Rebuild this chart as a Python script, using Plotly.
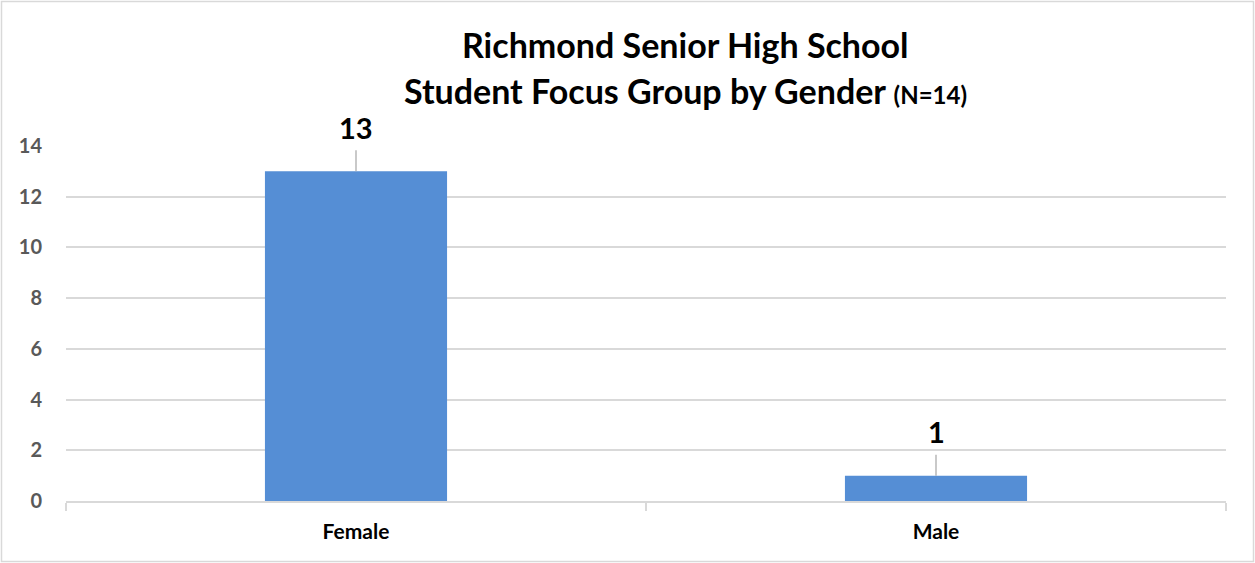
import plotly.graph_objects as go

categories = ["Female", "Male"]
counts = [13, 1]
y_ticks = [0, 2, 4, 6, 8, 10, 12, 14]

W, H = 1255, 563
L, R, T, B = 66, 29, 146, 62
FONT = "Lato, sans-serif"

fig = go.Figure()
fig.add_trace(go.Bar(
    x=categories, y=counts,
    marker=dict(color="#558ed5", line=dict(width=0)),
    width=0.314,
))

for c, v in zip(categories, counts):
    fig.add_annotation(
        x=c, y=v, xref="x", yref="y",
        text=f"<b>{v}</b>", showarrow=True, arrowhead=0, arrowwidth=1.2,
        arrowcolor="#a6a6a6", ax=0, ay=-44, standoff=0, startstandoff=4,
        font=dict(family=FONT, size=29, color="#000000"),
    )

pw = W - L - R
ph = H - T - B
fig.add_annotation(
    xref="paper", yref="paper",
    x=(685 - L) / pw, y=1 + (T - 45) / ph,
    xanchor="center", yanchor="middle", showarrow=False,
    text="<b>Richmond Senior High School</b>",
    font=dict(family=FONT, size=34, color="#000000"),
)
fig.add_annotation(
    xref="paper", yref="paper",
    x=(685 - L) / pw, y=1 + (T - 90) / ph,
    xanchor="center", yanchor="middle", showarrow=False,
    text="<b>Student Focus Group by Gender <span style='font-size:24px'>(N=14)</span></b>",
    font=dict(family=FONT, size=34, color="#000000"),
)

fig.add_shape(
    type="rect", xref="paper", yref="paper",
    x0=(1.5 - L) / pw, x1=(W - 1.5 - L) / pw,
    y0=-(B - 1.5) / ph, y1=1 + (T - 1.5) / ph,
    line=dict(color="#d9d9d9", width=1.5), fillcolor="rgba(0,0,0,0)", layer="below",
)

fig.update_layout(
    width=W, height=H,
    margin=dict(l=L, r=R, t=T, b=B),
    paper_bgcolor="white", plot_bgcolor="white",
    showlegend=False,
    xaxis=dict(
        showline=True, linecolor="#d9d9d9", linewidth=1.5,
        ticks="outside", tickson="boundaries", ticklen=8, tickcolor="#d9d9d9", tickwidth=1.5,
        tickfont=dict(family=FONT, size=21, color="#000000", weight="bold"),
        ticklabelstandoff=11,
        showgrid=False,
    ),
    yaxis=dict(
        range=[0, 14], tickvals=y_ticks,
        showgrid=True, gridcolor="#d9d9d9", gridwidth=1.5,
        zeroline=False, showline=False, ticks="",
        tickfont=dict(family=FONT, size=20, color="#595959", weight="bold"),
        ticklabelstandoff=23,
    ),
)

fig.write_html("out.html", config={"displayModeBar": False},
               post_script="document.body.style.margin='0';")
